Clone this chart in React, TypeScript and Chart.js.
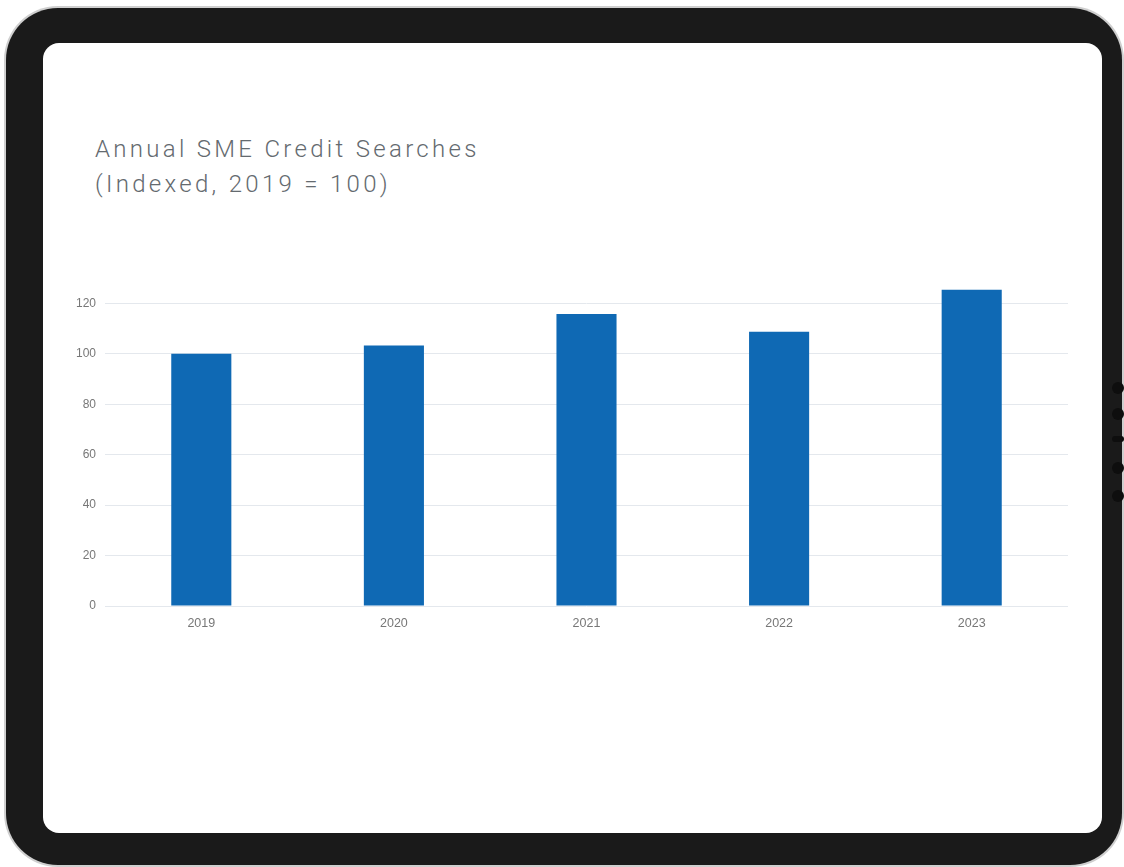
import React, { useEffect, useRef } from "react";
import { Chart, registerables } from "chart.js";

Chart.register(...registerables);

const categories = ["2019", "2020", "2021", "2022", "2023"];
const searchIndex = [100, 103.3, 115.8, 108.8, 125.4];
const yTicks = [0, 20, 40, 60, 80, 100, 120];
const titleLines = ["Annual SME Credit Searches", "(Indexed, 2019 = 100)"];

function BarChart() {
  const ref = useRef<HTMLCanvasElement | null>(null);
  useEffect(() => {
    if (!ref.current) return;
    const chart = new Chart(ref.current, {
      type: "bar",
      data: {
        labels: categories,
        datasets: [
          {
            data: searchIndex,
            backgroundColor: "#0f69b4",
            borderWidth: 0,
            categoryPercentage: 1,
            barPercentage: 0.312,
          },
        ],
      },
      options: {
        animation: false,
        responsive: false,
        maintainAspectRatio: false,
        layout: { padding: { top: 6, right: 0, bottom: 0, left: 0 } },
        plugins: { legend: { display: false }, tooltip: { enabled: false }, title: { display: false } },
        scales: {
          x: {
            grid: { display: false, drawTicks: false },
            border: { display: false },
            ticks: { color: "#777777", font: { family: "'Liberation Sans', Arial, sans-serif", size: 12.5 }, padding: 10 },
            afterFit: (s: any) => { s.height = 34; },
          },
          y: {
            min: 0,
            max: 130,
            afterBuildTicks: (s: any) => { s.ticks = yTicks.map((v) => ({ value: v })); },
            grid: { color: "#e4e8ed", lineWidth: 1, drawTicks: false },
            border: { display: false },
            ticks: { color: "#777777", font: { family: "'Liberation Sans', Arial, sans-serif", size: 12 }, padding: 9 },
            afterFit: (s: any) => { s.width = 45; },
          },
        },
      },
    });
    return () => chart.destroy();
  }, []);
  return (
    <canvas
      ref={ref}
      width={1008}
      height={378}
      style={{ position: "absolute", left: 60, top: 262, width: 1008, height: 378 }}
    />
  );
}

export default function App() {
  return (
    <div style={{ position: "fixed", left: 0, top: 0, width: 1124, height: 867, background: "#ffffff", overflow: "hidden" }}>
      <div
        style={{
          position: "absolute",
          left: 6,
          top: 8,
          width: 1116,
          height: 857,
          borderRadius: 52,
          background: "#1a1a1a",
          boxShadow: "0 0 0 2px #cfcfcf",
        }}
      />
      {[382, 408, 436, 462, 490].map((y, i) => (
        <div
          key={i}
          style={{
            position: "absolute",
            left: 1112,
            top: y,
            width: 12,
            height: i === 2 ? 6 : 12,
            borderRadius: 6,
            background: "#0e0e0e",
          }}
        />
      ))}
      <div
        style={{
          position: "absolute",
          left: 43,
          top: 43,
          width: 1059,
          height: 790,
          borderRadius: 16,
          background: "#ffffff",
        }}
      />
      <div
        style={{
          position: "absolute",
          left: 95,
          top: 132,
          fontFamily: "Roboto, 'Open Sans', sans-serif",
          fontWeight: 300,
          fontSize: 24,
          lineHeight: "35px",
          letterSpacing: 3.3,
          color: "#646a6f",
          whiteSpace: "nowrap",
        }}
      >
        {titleLines.map((t, i) => (
          <div key={i}>{t}</div>
        ))}
      </div>
      <BarChart />
    </div>
  );
}
